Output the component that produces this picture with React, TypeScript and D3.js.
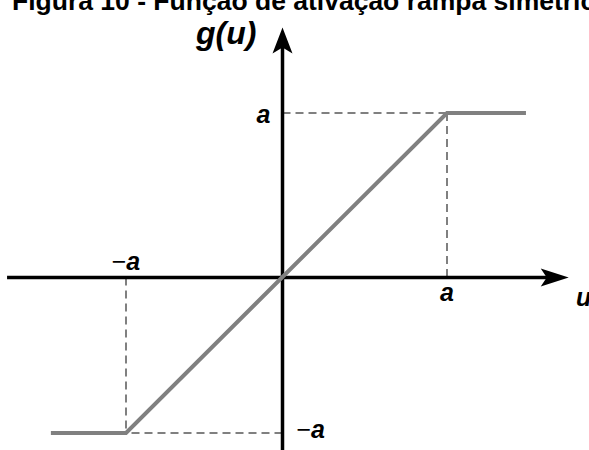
import React from "react";
import * as d3 from "d3";

// Symmetric ramp activation: g(u) = -a for u <= -a, u for |u| < a, a for u >= a
const title = "Figura 10 - Função de ativação rampa simétrica";
const aValue = 1;
const rampU = [-1.48, -aValue, aValue, 1.48];
const rampG = [-aValue, -aValue, aValue, aValue];
const uAxisExtent = [-1.76, 1.74];
const gAxisExtent = [-1.11, 1.52];
const uTickLabels = ["−a", "a"];
const gTickLabels = ["a", "−a"];

const W = 589;
const H = 450;

export default function App() {
  const x = d3.scaleLinear().domain([-aValue, 0, aValue]).range([126, 282.5, 447]);
  const y = d3.scaleLinear().domain([-aValue, 0, aValue]).range([433, 277.5, 113]);

  const pts: [number, number][] = rampU.map((u, i) => [u, rampG[i]]);
  const line = d3
    .line<[number, number]>()
    .x((d) => x(d[0]))
    .y((d) => y(d[1]));

  const x0 = x(0);
  const y0 = y(0);
  const xa = x(aValue);
  const xna = x(-aValue);
  const ya = y(aValue);
  const yna = y(-aValue);

  const uEnd = x(uAxisExtent[1]);
  const gEnd = y(gAxisExtent[1]);

  const labelFont = "'Liberation Sans', Arial, sans-serif";
  const dash = "8 5";
  const grey = "#808080";

  return (
    <svg
      width={W}
      height={H}
      style={{ position: "absolute", left: 0, top: 0, background: "#fff" }}
    >
      <text
        x={12}
        y={10}
        fontFamily={labelFont}
        fontWeight="bold"
        fontSize={26.5}
        fill="#000"
      >
        {title}
      </text>

      {/* guide lines to the saturation corners */}
      <g stroke={grey} strokeWidth={2} strokeDasharray={dash} fill="none">
        <line x1={x0} y1={ya} x2={xa} y2={ya} />
        <line x1={xa} y1={ya} x2={xa} y2={y0} />
        <line x1={x0} y1={yna} x2={xna} y2={yna} />
        <line x1={xna} y1={y0} x2={xna} y2={yna} />
      </g>

      {/* axes */}
      <g stroke="#000" strokeWidth={3.5}>
        <line x1={x(uAxisExtent[0])} y1={y0} x2={uEnd - 8} y2={y0} />
        <line x1={x0} y1={y(gAxisExtent[0])} x2={x0} y2={gEnd + 8} />
      </g>
      <path
        d={`M${uEnd},${y0} L${uEnd - 28},${y0 - 9} L${uEnd - 22},${y0} L${uEnd - 28},${y0 + 9} Z`}
        fill="#000"
      />
      <path
        d={`M${x0},${gEnd} L${x0 - 10},${gEnd + 26} L${x0},${gEnd + 20} L${x0 + 10},${gEnd + 26} Z`}
        fill="#000"
      />

      {/* ramp */}
      <path d={line(pts) ?? ""} fill="none" stroke={grey} strokeWidth={4} />

      {/* labels */}
      <g fontFamily={labelFont} fontWeight="bold" fontStyle="italic" fontSize={25} fill="#000">
        <text x={xna} y={270} textAnchor="middle">
          <tspan fontWeight="normal" fontStyle="normal">{uTickLabels[0].charAt(0)}</tspan>
          {uTickLabels[0].slice(1)}
        </text>
        <text x={xa} y={301} textAnchor="middle">{uTickLabels[1]}</text>
        <text x={x0 - 12} y={ya + 10} textAnchor="end">{gTickLabels[0]}</text>
        <text x={x0 + 14} y={yna + 5} textAnchor="start">
          <tspan fontWeight="normal" fontStyle="normal">{gTickLabels[1].charAt(0)}</tspan>
          {gTickLabels[1].slice(1)}
        </text>
        <text x={576} y={306}>u</text>
        <text x={196} y={44} fontSize={32}>g(u)</text>
      </g>
    </svg>
  );
}
